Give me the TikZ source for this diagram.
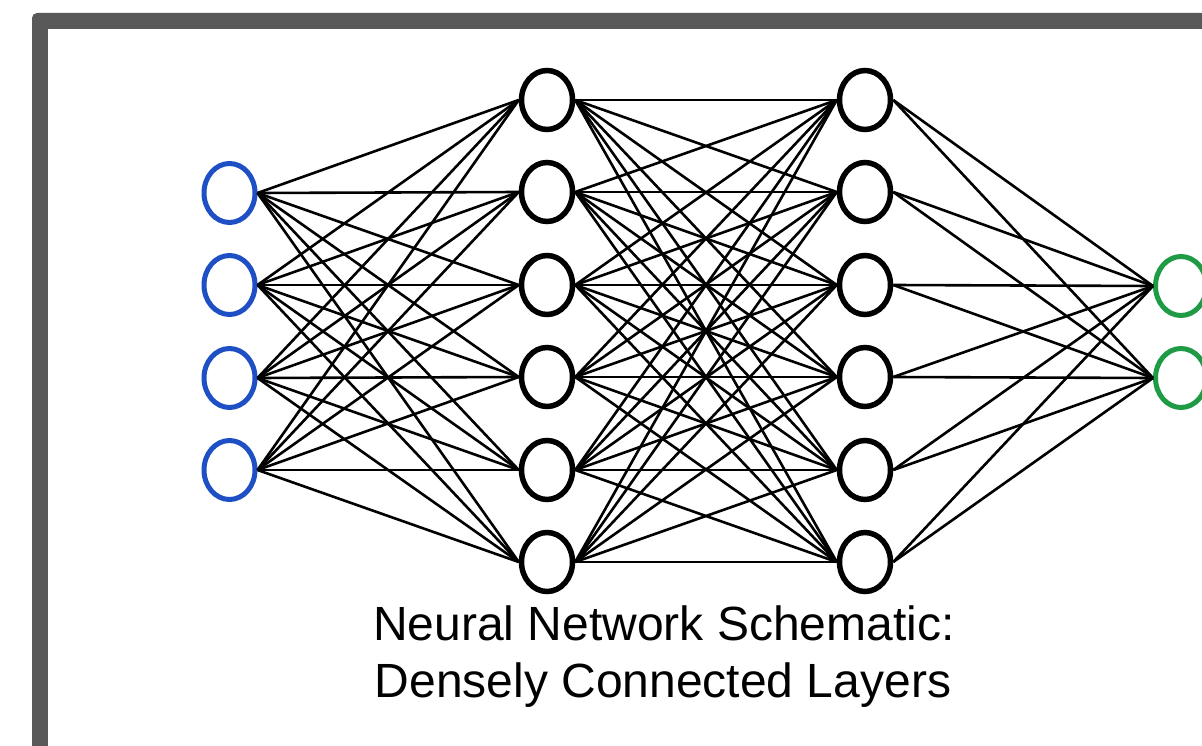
\documentclass[tikz,border=0pt]{standalone}
\usepackage{fontspec}
\setmainfont{Liberation Sans}
\usetikzlibrary{shapes.geometric}
\definecolor{framegray}{HTML}{595959}
\definecolor{inblue}{HTML}{1F4FC4}
\definecolor{outgreen}{HTML}{1F9A45}
\tikzset{
  neuron/.style={ellipse, draw=black, fill=white, line width=5.5pt,
    minimum width=51pt, minimum height=59pt, inner sep=0pt},
  inneuron/.style={neuron, draw=inblue, line width=5pt},
  outneuron/.style={neuron, draw=outgreen, line width=5pt},
  synapse/.style={draw=black, line width=2.6pt},
  caption/.style={anchor=base, font=\fontsize{48}{57}\selectfont, inner sep=0pt}
}
\begin{document}
\begin{tikzpicture}[x=1pt, y=-1pt]
  \useasboundingbox (0,0) rectangle (1202,746);
  % outer frame
  \begin{scope}
    \clip (0,0) rectangle (1202,746);
    \fill[framegray, rounded corners=5pt] (32,13) rectangle (1260,800);
    \fill[white] (48,29) rectangle (1240,790);
  \end{scope}

  % layer positions
  \foreach \i/\y in {1/193, 2/285, 3/378, 4/470}
    \node[inneuron] (in\i) at (229.5,\y) {};
  \foreach \i/\y in {1/100, 2/192, 3/285, 4/377, 5/470, 6/562}
    \node[neuron] (ha\i) at (547,\y) {};
  \foreach \i/\y in {1/100, 2/192, 3/285, 4/377, 5/470, 6/562}
    \node[neuron] (hb\i) at (865,\y) {};
  \foreach \i/\y in {1/286, 2/378}
    \node[outneuron] (out\i) at (1181,\y) {};

  % fully connected weights
  \foreach \a in {1,...,4}
    \foreach \b in {1,...,6}
      \draw[synapse] (in\a.east) -- (ha\b.west);
  \foreach \a in {1,...,6}
    \foreach \b in {1,...,6}
      \draw[synapse] (ha\a.east) -- (hb\b.west);
  \foreach \a in {1,...,6}
    \foreach \b in {1,2}
      \draw[synapse] (hb\a.east) -- (out\b.west);

  \node[caption] (title1) at (664,640) {Neural Network Schematic:};
  \node[caption] (title2) at (663,697) {Densely Connected Layers};
\end{tikzpicture}
\end{document}
